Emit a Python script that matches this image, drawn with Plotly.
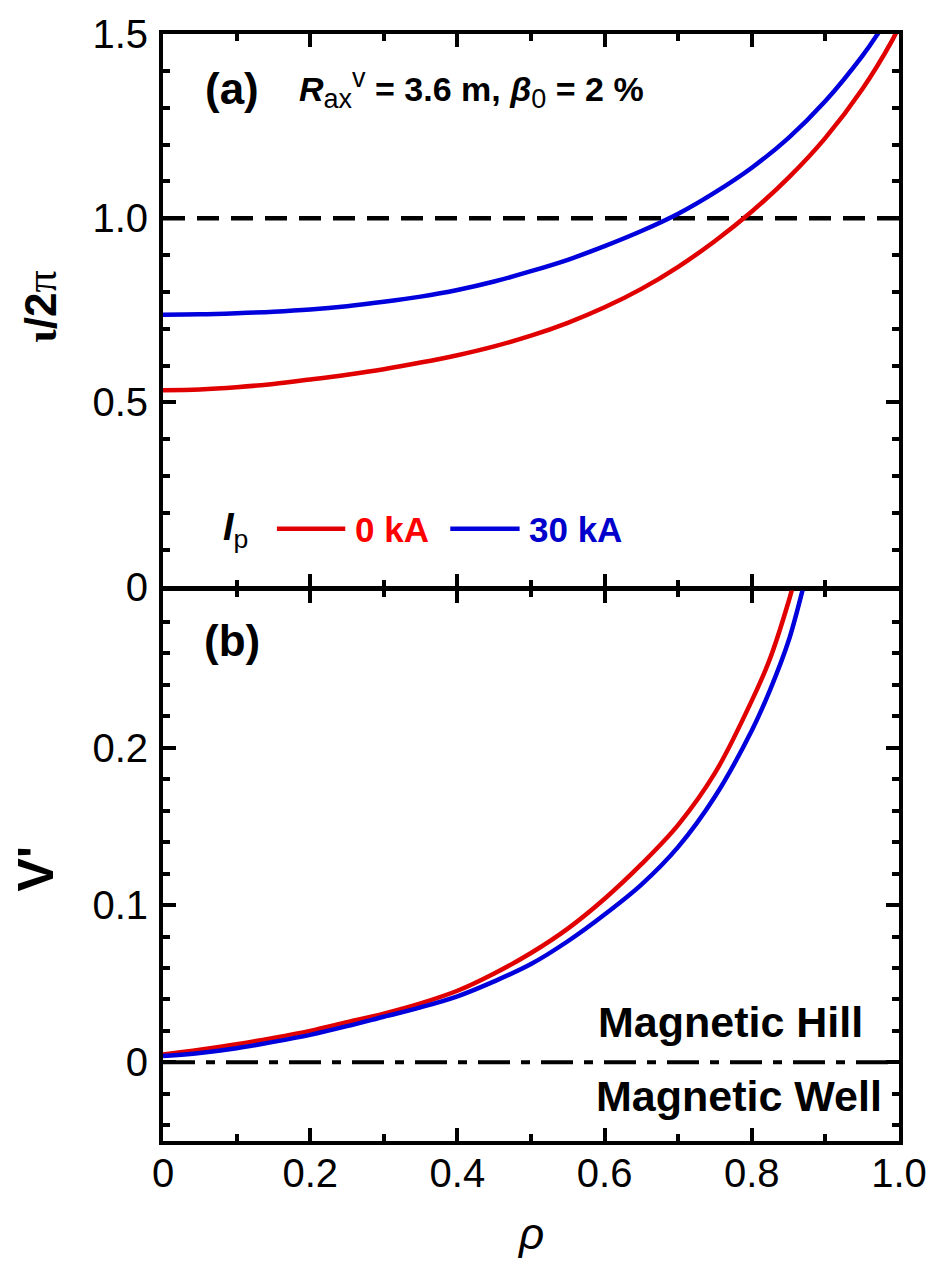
import plotly.graph_objects as go

# ---------------- data ----------------
rho_iota_0kA = [0.00, 0.05, 0.10, 0.15, 0.20, 0.25, 0.30, 0.35, 0.40, 0.45, 0.50,
                0.55, 0.60, 0.65, 0.70, 0.75, 0.80, 0.85, 0.90, 0.95, 0.99, 1.00]
iota_0kA = [0.533, 0.535, 0.541, 0.550, 0.562, 0.575, 0.590, 0.608, 0.628, 0.652, 0.681,
            0.716, 0.758, 0.808, 0.868, 0.938, 1.018, 1.110, 1.218, 1.350, 1.480, 1.520]

rho_iota_30kA = [0.00, 0.05, 0.10, 0.15, 0.20, 0.25, 0.30, 0.35, 0.40, 0.45, 0.50,
                 0.55, 0.60, 0.65, 0.70, 0.75, 0.80, 0.85, 0.90, 0.95, 0.97, 0.98]
iota_30kA = [0.738, 0.739, 0.742, 0.746, 0.752, 0.761, 0.773, 0.787, 0.805, 0.828, 0.856,
             0.887, 0.924, 0.965, 1.012, 1.070, 1.137, 1.218, 1.318, 1.440, 1.497, 1.530]

rho_vp_0kA = [0.00, 0.05, 0.10, 0.15, 0.20, 0.25, 0.30, 0.35, 0.40, 0.45, 0.50,
              0.55, 0.60, 0.65, 0.70, 0.75, 0.80, 0.825, 0.85, 0.86]
vp_0kA = [0.005, 0.008, 0.0115, 0.0155, 0.020, 0.0255, 0.031, 0.0375, 0.0455, 0.0565, 0.0695,
          0.085, 0.104, 0.126, 0.151, 0.184, 0.230, 0.257, 0.293, 0.310]

rho_vp_30kA = [0.00, 0.05, 0.10, 0.15, 0.20, 0.25, 0.30, 0.35, 0.40, 0.45, 0.50,
               0.55, 0.60, 0.65, 0.70, 0.75, 0.80, 0.825, 0.85, 0.87, 0.88]
vp_30kA = [0.004, 0.006, 0.009, 0.013, 0.0175, 0.023, 0.029, 0.035, 0.042, 0.0515, 0.0625,
           0.077, 0.094, 0.113, 0.137, 0.169, 0.211, 0.237, 0.268, 0.302, 0.320]

rho_span = [0.0, 1.0]
iota_rational = 1.0
vp_boundary = 0.0

x_tickvals = [0, 0.2, 0.4, 0.6, 0.8, 1.0]
x_ticktext = ["0", "0.2", "0.4", "0.6", "0.8", "1.0"]
y1_tickvals = [0, 0.5, 1.0, 1.5]
y1_ticktext = ["0", "0.5", "1.0", "1.5"]
y2_tickvals = [0, 0.1, 0.2]
y2_ticktext = ["0", "0.1", "0.2"]

# ---------------- style ----------------
RED_LINE = "#e10000"
BLUE_LINE = "#0000dd"
RED_TXT = "#ff0000"
BLUE_TXT = "#0000cc"
FONT = "Liberation Sans, Arial, sans-serif"

W, H = 939, 1271
ML, MR, MT, MB = 163, 33, 29, 130
PW = W - ML - MR
PH = H - MT - MB
LW = 4
TOP_BOTTOM = (H - MB - 584) / PH     # bottom edge of panel (a)
BOT_TOP = (H - MB - 588) / PH        # top edge of panel (b)


def px(xp):
    return (xp - ML) / PW


def py(yp):
    return (H - MB - yp) / PH


fig = go.Figure()

fig.add_trace(go.Scatter(x=rho_span, y=[iota_rational] * 2, mode="lines",
                         line=dict(color="black", width=4.5, dash="22px,12px"),
                         xaxis="x", yaxis="y", showlegend=False))
fig.add_trace(go.Scatter(x=rho_iota_0kA, y=iota_0kA, mode="lines",
                         line=dict(color=RED_LINE, width=4.5, shape="spline", smoothing=1.0),
                         xaxis="x", yaxis="y", showlegend=False))
fig.add_trace(go.Scatter(x=rho_iota_30kA, y=iota_30kA, mode="lines",
                         line=dict(color=BLUE_LINE, width=4.5, shape="spline", smoothing=1.0),
                         xaxis="x", yaxis="y", showlegend=False))

fig.add_trace(go.Scatter(x=rho_span, y=[vp_boundary] * 2, mode="lines",
                         line=dict(color="black", width=4, dash="32px,11px,9px,11px"),
                         xaxis="x2", yaxis="y2", showlegend=False))
fig.add_trace(go.Scatter(x=rho_vp_0kA, y=vp_0kA, mode="lines",
                         line=dict(color=RED_LINE, width=4.5, shape="spline", smoothing=1.0),
                         xaxis="x2", yaxis="y2", showlegend=False))
fig.add_trace(go.Scatter(x=rho_vp_30kA, y=vp_30kA, mode="lines",
                         line=dict(color=BLUE_LINE, width=4.5, shape="spline", smoothing=1.0),
                         xaxis="x2", yaxis="y2", showlegend=False))

axis_common = dict(showline=True, linewidth=LW, linecolor="black", mirror="ticks",
                   ticks="inside", ticklen=13, tickwidth=3.5, tickcolor="black",
                   showgrid=False, zeroline=False,
                   tickfont=dict(family=FONT, size=40, color="black"))


def minor(dt):
    return dict(dtick=dt, tick0=0, ticks="inside", ticklen=7, tickwidth=3.5,
                tickcolor="black", showgrid=False)


fig.update_layout(
    width=W, height=H,
    margin=dict(l=ML, r=MR, t=MT, b=MB),
    paper_bgcolor="white", plot_bgcolor="white",
    xaxis=dict(domain=[0, 1], range=[0, 1], anchor="y", tickmode="array",
               tickvals=x_tickvals, ticktext=x_ticktext, showticklabels=False,
               minor=minor(0.1), **axis_common),
    yaxis=dict(domain=[TOP_BOTTOM, 1], range=[0, 1.5], anchor="x", tickmode="array",
               tickvals=y1_tickvals, ticktext=y1_ticktext, ticklabelstandoff=3,
               minor=minor(0.1), **axis_common),
    xaxis2=dict(domain=[0, 1], range=[0, 1], anchor="y2", tickmode="array",
                tickvals=x_tickvals, ticktext=x_ticktext, ticklabelstandoff=-6,
                minor=minor(0.1), **axis_common),
    yaxis2=dict(domain=[0, BOT_TOP], range=[-0.05, 0.3], anchor="x2", tickmode="array",
                tickvals=y2_tickvals, ticktext=y2_ticktext, ticklabelstandoff=3,
                minor=minor(0.02), **axis_common),
)

ann = []


def add_text(text, x, y, size, color="black", xanchor="center", yanchor="middle",
             angle=0):
    ann.append(dict(text=text, x=x, y=y, xref="paper", yref="paper", showarrow=False,
                    xanchor=xanchor, yanchor=yanchor, textangle=angle,
                    font=dict(family=FONT, size=size, color=color)))


# axis titles
add_text("<b><span style='font-family:Liberation Serif'>ι</span>/2</b>"
         "<span style='font-family:Liberation Serif'>π</span>",
         px(40), py(303), 44, angle=-90)
add_text("<b>V'</b>", px(35), py(868), 50, angle=-90)
add_text("<i>ρ</i>", px(534), py(1234), 44)

# panel labels
add_text("<b>(a)</b>", px(233), py(84), 44)
add_text("<b>(b)</b>", px(233), py(638), 44)

# parameter text
add_text("<b><i>R</i></b><sub><span style='font-size:27px'>ax</span></sub>"
         "<sup><span style='font-size:27px'>v</span></sup>"
         "<b> = 3.6 m, <i>β</i></b><sub><span style='font-size:27px'>0</span></sub>"
         "<b> = 2 %</b>",
         px(298), py(84), 34, xanchor="left")

# legend
add_text("<b><i>I</i></b><sub>p</sub>", px(222), py(527), 38, xanchor="left")
add_text("<b>0 kA</b>", px(355), py(527), 35, color=RED_TXT, xanchor="left")
add_text("<b>30 kA</b>", px(530), py(527), 35, color=BLUE_TXT, xanchor="left")

# region labels
add_text("<b>Magnetic Hill</b>", px(600), py(1021), 43, xanchor="left")
add_text("<b>Magnetic Well</b>", px(598), py(1096), 43, xanchor="left")

fig.update_layout(annotations=ann)

# legend sample lines
fig.add_shape(type="line", xref="paper", yref="paper", x0=px(278), x1=px(347),
              y0=py(526), y1=py(526), line=dict(color=RED_LINE, width=4.5))
fig.add_shape(type="line", xref="paper", yref="paper", x0=px(453), x1=px(523),
              y0=py(526), y1=py(526), line=dict(color=BLUE_LINE, width=4.5))

fig.write_html("out.html")
